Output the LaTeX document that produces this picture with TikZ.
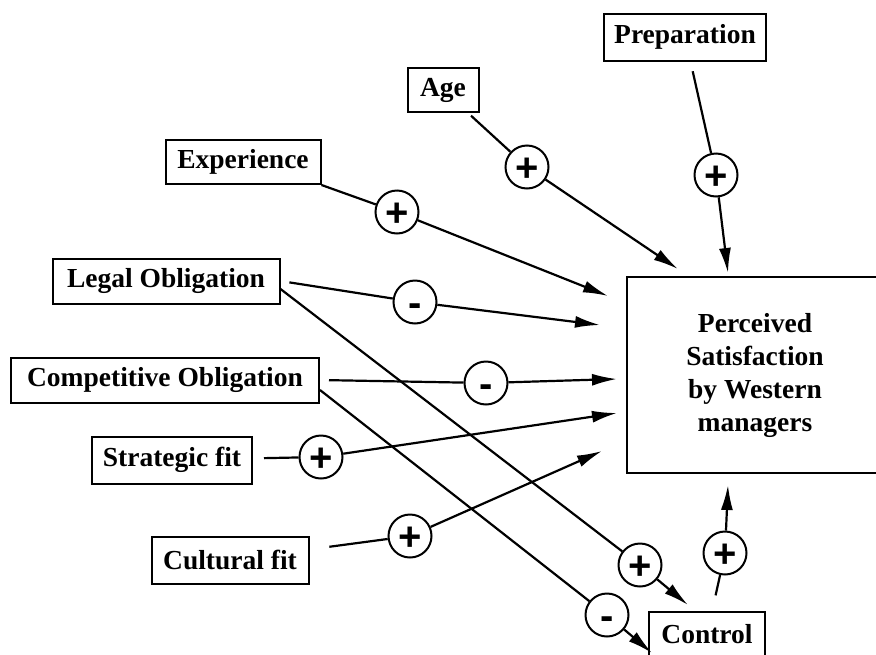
\documentclass[tikz,border=0pt]{standalone}
\usepackage{fontspec}
\setmainfont{Liberation Serif}
\newfontfamily\signfont{Liberation Sans}
\usetikzlibrary{arrows.meta}

\begin{document}
\begin{tikzpicture}[x=1pt,y=-1pt,
  var/.style={draw,line width=2pt,font=\fontsize{27.5}{33}\selectfont\bfseries,minimum height=45pt,inner sep=3pt},
  sign/.style={draw,circle,line width=2pt,minimum size=43pt,inner sep=0pt,text height=28pt,text depth=0pt,font=\signfont\fontsize{40}{40}\selectfont\bfseries},
  link/.style={line width=2.2pt},
  arr/.style={line width=2.2pt,-{Latex[length=25pt,width=12pt]}}]
\useasboundingbox (0,0) rectangle (876,654);
\clip (0,0) rectangle (876,654);
% variables
\node[var,minimum width=162pt,minimum height=47pt] (prep) at (685,37) {Preparation};
\node[var,minimum width=71pt,minimum height=44pt] (age) at (443,90) {Age};
\node[var,minimum width=155pt,minimum height=44pt] (exp) at (243,162) {Experience};
\node[var,minimum width=227pt] (legal) at (166,281) {Legal Obligation};
\node[var,minimum width=308pt] (comp) at (165,380) {Competitive Obligation};
\node[var,minimum width=160pt,minimum height=47pt] (strat) at (172,460) {Strategic fit};
\node[var,minimum width=157pt,minimum height=47pt] (cult) at (230,560) {Cultural fit};
\node[var,minimum width=116pt,minimum height=44pt] (ctrl) at (707,634) {Control};
\node[var,minimum width=256pt,minimum height=196pt,align=center] (sat) at (755,375) {Perceived\\Satisfaction\\by Western\\managers};
% signs
\node[sign] (cprep) at (716,175) {+};
\node[sign] (cage) at (527,167) {+};
\node[sign] (cexp) at (397,212) {+};
\node[sign] (clegal) at (415,302) {-};
\node[sign] (ccomp) at (486,383) {-};
\node[sign] (cstrat) at (321,457) {+};
\node[sign] (ccult) at (410,536) {+};
\node[sign] (clc) at (640,565) {+};
\node[sign] (ccc) at (607,615) {-};
\node[sign] (cctrl) at (725,553) {+};
% arrow ends
\coordinate (tprep) at (728,273);
\coordinate (tage) at (678,269);
\coordinate (texp) at (608,296);
\coordinate (tlegal) at (600,325);
\coordinate (tcomp) at (617,379);
\coordinate (tstrat) at (617,413);
\coordinate (tcult) at (602,451);
\coordinate (tlc) at (688,605);
\coordinate (tcc) at (652,653);
\coordinate (tctrl) at (728,485);
% links
\draw[link,shorten <=10pt] (prep) -- (cprep);
\draw[arr] (cprep) -- (tprep);
\draw[link,shorten <=4pt] (age) -- (cage);
\draw[arr] (cage) -- (tage);
\draw[link] (exp.south east) -- (cexp);
\draw[arr] (cexp) -- (texp);
\draw[link,shorten <=9pt] (legal.east) -- (clegal);
\draw[arr] (clegal) -- (tlegal);
\draw[link] ([yshift=-8pt]legal.east) -- (clc);
\draw[arr] (clc) -- (tlc);
\draw[link,shorten <=9pt] (comp.east) -- (ccomp);
\draw[arr] (ccomp) -- (tcomp);
\draw[link] ([yshift=-10pt]comp.east) -- (ccc);
\draw[arr] (ccc) -- (tcc);
\draw[link,shorten <=11pt] (strat) -- (cstrat);
\draw[arr] (cstrat) -- (tstrat);
\draw[link,shorten <=20pt] (cult) -- (ccult);
\draw[arr] (ccult) -- (tcult);
\draw[link,shorten <=16pt] (ctrl) -- (cctrl);
\draw[arr] (cctrl) -- (tctrl);
\end{tikzpicture}
\end{document}
